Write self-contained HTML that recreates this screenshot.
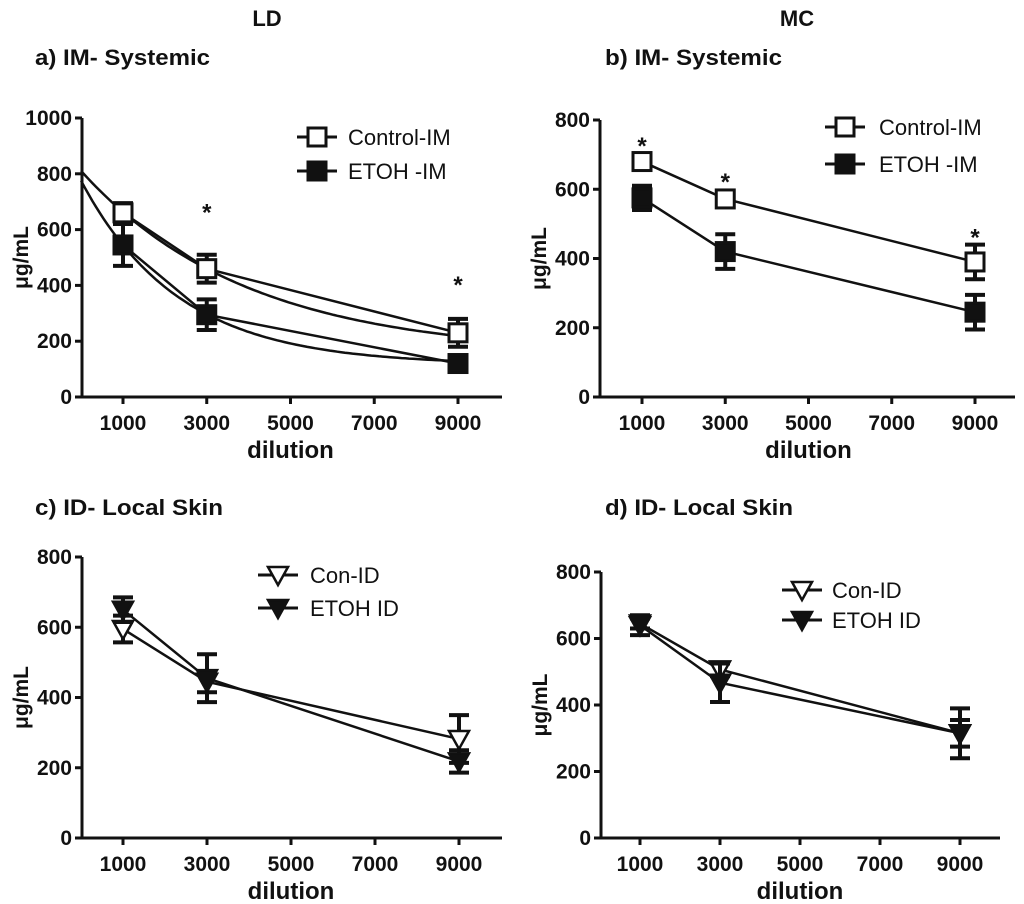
<!DOCTYPE html>
<html><head><meta charset="utf-8"><style>
body{margin:0;background:#fff;width:1024px;height:904px;overflow:hidden}
svg{display:block}
text{font-family:"Liberation Sans",Arial,sans-serif;fill:#111}
</style></head><body>
<svg id="fig" width="1024" height="904" xmlns="http://www.w3.org/2000/svg">
<text x="267" y="26" font-size="22" font-weight="bold" text-anchor="middle">LD</text>
<text x="797" y="26" font-size="22" font-weight="bold" text-anchor="middle">MC</text>
<text x="35" y="65" font-size="22" font-weight="bold" textLength="175" lengthAdjust="spacingAndGlyphs">a) IM- Systemic</text>
<text x="605" y="65" font-size="22" font-weight="bold" textLength="177" lengthAdjust="spacingAndGlyphs">b) IM- Systemic</text>
<text x="35" y="515" font-size="22" font-weight="bold" textLength="188" lengthAdjust="spacingAndGlyphs">c) ID- Local Skin</text>
<text x="605" y="515" font-size="22" font-weight="bold" textLength="188" lengthAdjust="spacingAndGlyphs">d) ID- Local Skin</text>
</svg>
<script>
const dilutions=[1000,3000,9000];
const xTicks=[1000,3000,5000,7000,9000];
// panel a
const aCtrl=[660,460,230], aCtrlErr=[35,50,50];
const aEtoh=[545,295,120], aEtohErr=[75,55,15];
const aCtrlFit=[150,660,0.252], aEtohFit=[115,660,0.43]; // c + a*exp(-k*x/1000)
const aStars=[3000,9000], aStarVals=[680,420];
const aYTicks=[0,200,400,600,800,1000];
// panel b
const bCtrl=[680,572,390], bCtrlErr=[15,20,50];
const bEtoh=[575,420,245], bEtohErr=[35,50,50];
const bStars=[1000,3000,9000], bStarVals=[740,635,475];
const bYTicks=[0,200,400,600,800];
// panel c
const cCon=[595,445,282], cConErr=[38,30,68];
const cEtoh=[650,455,218], cEtohErr=[35,68,32];
const cYTicks=[0,200,400,600,800];
// panel d
const dCon=[645,507,315], dConErr=[15,20,75];
const dEtoh=[640,467,315], dEtohErr=[30,58,40];
const dYTicks=[0,200,400,600,800];

const NS="http://www.w3.org/2000/svg";
const svg=document.getElementById('fig');
function el(tag,attrs,parent){const e=document.createElementNS(NS,tag);for(const k in attrs)e.setAttribute(k,attrs[k]);(parent||svg).appendChild(e);return e;}

function panel(id,P){
  const g=el('g',{});
  
  
  const X=v=>P.x0+(v-1000)*(P.x9-P.x0)/8000;
  const Y=v=>P.yb+(v)*(P.yt-P.yb)/P.ymax;
  const ya=el('line',{x1:P.ax,y1:Y(P.ymax),x2:P.ax,y2:P.yb+1.5,stroke:'#111','stroke-width':3},g);
  
  
  const xa=el('line',{x1:P.ax-7,y1:P.yb,x2:P.xend,y2:P.yb,stroke:'#111','stroke-width':3},g);
  
  
  P.yTicks.forEach(t=>{
    el('line',{x1:P.ax-7,y1:Y(t),x2:P.ax,y2:Y(t),stroke:'#111','stroke-width':3},g);
    const tx=el('text',{x:P.ax-10,y:Y(t)+7,'font-size':21,'font-weight':'bold','text-anchor':'end'},g);
    tx.textContent=t;
    
    
  });
  xTicks.forEach(t=>{
    el('line',{x1:X(t),y1:P.yb,x2:X(t),y2:P.yb+7,stroke:'#111','stroke-width':3},g);
    const tx=el('text',{x:X(t),y:P.yb+33,'font-size':21,'font-weight':'bold','text-anchor':'middle'},g);
    tx.textContent=t;
    
    
  });
  const xt=el('text',{x:X(5000),y:P.yb+61,'font-size':24,'font-weight':'bold','text-anchor':'middle'},g);
  xt.textContent='dilution';
  
  
  const yt=el('text',{x:0,y:0,'font-size':21,'font-weight':'bold','text-anchor':'middle',transform:`translate(${P.ax-54},${(P.yb+Y(P.ymax))/2}) rotate(-90)`},g);
  yt.textContent='μg/mL';
  
  
  (P.fits||[]).forEach(f=>{
    let d='';
    for(let i=0;i<=100;i++){const xv=i*90;const yv=f[0]+f[1]*Math.exp(-f[2]*xv/1000);d+=(i?'L':'M')+X(xv).toFixed(1)+','+Y(yv).toFixed(1);}
    const p=el('path',{d:d,fill:'none',stroke:'#111','stroke-width':2.5},g);
    
    
  });
  P.series.forEach(s=>{
    const pts=dilutions.map((d,i)=>X(d)+','+Y(s.v[i])).join(' ');
    const l=el('polyline',{points:pts,fill:'none',stroke:'#111','stroke-width':2.5},g);
    
    
    dilutions.forEach((d,i)=>{
      const x=X(d),y1=Y(s.v[i]+s.e[i]),y2=Y(s.v[i]-s.e[i]);
      const eb=el('path',{d:`M${x},${y1}L${x},${y2}M${x-10},${y1}L${x+10},${y1}M${x-10},${y2}L${x+10},${y2}`,stroke:'#111','stroke-width':4,fill:'none'},g);
      
      
      const m=marker(g,s.shape,s.fill,x,Y(s.v[i]));
      
      
    });
  });
  (P.stars||[]).forEach((sx,i)=>{
    const st=el('text',{x:X(sx),y:Y(P.starVals[i])+13,'font-size':24,'font-weight':'bold','text-anchor':'middle'},g);
    st.textContent='*';
    
    
  });
  P.series.forEach((s,i)=>{
    const ly=P.ly+i*P.lgap;
    el('line',{x1:P.lx-20,y1:ly,x2:P.lx+20,y2:ly,stroke:'#111','stroke-width':3},g);
    marker(g,s.shape,s.fill,P.lx,ly);
    const t=el('text',{x:P.lx+P.ltx,y:ly+8,'font-size':22},g);
    t.textContent=s.label;
    
    
  });
}
function marker(g,shape,fill,x,y){
  if(shape==='sq') return el('rect',{x:x-9,y:y-9,width:18,height:18,fill:fill,stroke:'#111','stroke-width':3},g);
  return el('path',{d:`M${x-10},${y-8}L${x+10},${y-8}L${x},${y+10}Z`,fill:fill,stroke:'#111','stroke-width':2.5,'stroke-linejoin':'miter'},g);
}

panel('panel-a',{ax:82,x0:123,x9:458,xend:502,yb:397,yt:118,ymax:1000,yTicks:aYTicks,
  fits:[aCtrlFit,aEtohFit],stars:aStars,starVals:aStarVals,lx:317,ly:137,lgap:34,ltx:31,
  series:[{name:'control-im',label:'Control-IM',v:aCtrl,e:aCtrlErr,shape:'sq',fill:'#fff'},
          {name:'etoh-im',label:'ETOH -IM',v:aEtoh,e:aEtohErr,shape:'sq',fill:'#111'}]});
panel('panel-b',{ax:600,x0:642,x9:975,xend:1015,yb:397,yt:120,ymax:800,yTicks:bYTicks,
  stars:bStars,starVals:bStarVals,lx:845,ly:127,lgap:37,ltx:34,
  series:[{name:'control-im',label:'Control-IM',v:bCtrl,e:bCtrlErr,shape:'sq',fill:'#fff'},
          {name:'etoh-im',label:'ETOH -IM',v:bEtoh,e:bEtohErr,shape:'sq',fill:'#111'}]});
panel('panel-c',{ax:82,x0:123,x9:459,xend:502,yb:838,yt:557,ymax:800,yTicks:cYTicks,
  lx:278,ly:575,lgap:33,ltx:32,
  series:[{name:'con-id',label:'Con-ID',v:cCon,e:cConErr,shape:'tri',fill:'#fff'},
          {name:'etoh-id',label:'ETOH ID',v:cEtoh,e:cEtohErr,shape:'tri',fill:'#111'}]});
panel('panel-d',{ax:601,x0:640,x9:960,xend:1000,yb:838,yt:572,ymax:800,yTicks:dYTicks,
  lx:802,ly:590,lgap:30,ltx:30,
  series:[{name:'con-id',label:'Con-ID',v:dCon,e:dConErr,shape:'tri',fill:'#fff'},
          {name:'etoh-id',label:'ETOH ID',v:dEtoh,e:dEtohErr,shape:'tri',fill:'#111'}]});
</script>
</body></html>
